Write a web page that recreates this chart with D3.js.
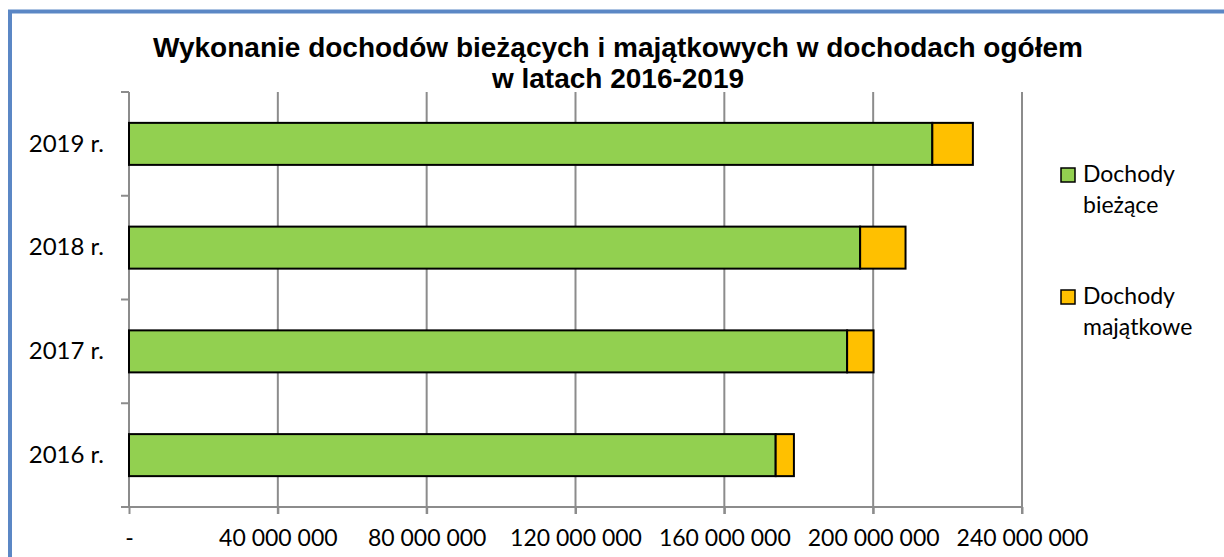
<!DOCTYPE html>
<html>
<head>
<meta charset="utf-8">
<script src="https://cdnjs.cloudflare.com/ajax/libs/d3/7.8.5/d3.min.js"></script>
<style>
  body { margin: 0; background: #fff; }
  svg { display: block; }
</style>
</head>
<body>
<script>
// values (PLN)
var years = ["2019 r.", "2018 r.", "2017 r.", "2016 r."];
var biezace = [215900000, 196500000, 193000000, 173800000];
var majatkowe = [10900000, 12200000, 7100000, 4900000];
var seriesNames = ["Dochody bieżące", "Dochody majątkowe"];
var xTicks = [0, 40000000, 80000000, 120000000, 160000000, 200000000, 240000000];
var colors = ["#92D050", "#FFC000"];

var w = 1224, h = 557,
    pd = { left: 129, right: 1022, top: 92, bottom: 507 };

var svg = d3.select("body").append("svg")
    .attr("width", w).attr("height", h);

// frame
svg.append("rect")
   .attr("x", 10).attr("y", 11.5)
   .attr("width", 1300).attr("height", 700)
   .attr("fill", "none")
   .attr("stroke", "#5B87C5")
   .attr("stroke-width", 4);

// title
var title = svg.append("text")
   .attr("text-anchor", "middle")
   .attr("font-family", "Liberation Sans, Arial, sans-serif")
   .attr("font-weight", "bold")
   .attr("font-size", "28px")
   .attr("fill", "#000");
title.append("tspan").attr("x", 618).attr("y", 57)
   .text("Wykonanie dochodów bieżących i majątkowych w dochodach ogółem");
title.append("tspan").attr("x", 618).attr("y", 88)
   .text("w latach 2016-2019");

var x = d3.scaleLinear().domain([0, 240000000]).range([pd.left, pd.right]);
var y = d3.scaleBand().domain(years).range([pd.top, pd.bottom])
          .paddingInner(0.595).paddingOuter(0.2975);

var fmt = function(d) {
  return d === 0 ? "-" : d3.format(",")(d).replace(/,/g, " ");
};

// gridlines
svg.selectAll("line.grid")
   .data(xTicks.slice(1))
   .enter()
   .append("line")
   .attr("class", "grid")
   .attr("x1", function(d) { return x(d); })
   .attr("x2", function(d) { return x(d); })
   .attr("y1", pd.top)
   .attr("y2", pd.bottom + 7)
   .attr("stroke", "#8C8C8C")
   .attr("stroke-width", 2);

// bottom axis
var xAxis = d3.axisBottom(x).tickValues(xTicks).tickFormat(fmt).tickSize(7).tickPadding(16);
var gx = svg.append("g")
   .attr("transform", "translate(0," + pd.bottom + ")")
   .call(xAxis);
gx.select(".domain").attr("stroke", "#8C8C8C").attr("stroke-width", 2)
  .attr("d", "M" + (pd.left - 8) + ",0H" + pd.right);
gx.selectAll(".tick line").attr("stroke", "#8C8C8C").attr("stroke-width", 2);
gx.selectAll(".tick text")
  .attr("font-family", "Lato, sans-serif")
  .attr("font-size", "23px")
  .attr("fill", "#000");

// left axis
var yAxis = d3.axisLeft(y).tickSize(0).tickPadding(25);
var gy = svg.append("g")
   .attr("transform", "translate(" + pd.left + ",0)")
   .call(yAxis);
gy.select(".domain").remove();
gy.selectAll(".tick text")
  .attr("font-family", "Lato, sans-serif")
  .attr("font-size", "24px")
  .attr("fill", "#000");
gy.append("line")
  .attr("x1", 0).attr("x2", 0)
  .attr("y1", pd.top).attr("y2", pd.bottom)
  .attr("stroke", "#8C8C8C").attr("stroke-width", 2);
gy.selectAll("line.cat")
  .data(d3.range(years.length))
  .enter()
  .append("line")
  .attr("class", "cat")
  .attr("x1", -8).attr("x2", 0)
  .attr("y1", function(i) { return pd.top + i * y.step(); })
  .attr("y2", function(i) { return pd.top + i * y.step(); })
  .attr("stroke", "#8C8C8C").attr("stroke-width", 2);

// bars
var stackData = years.map(function(yr, i) {
  return { year: yr, a: biezace[i], b: majatkowe[i] };
});
var stack = d3.stack().keys(["a", "b"])(stackData);

svg.selectAll("g.series")
   .data(stack)
   .enter()
   .append("g")
   .attr("class", "series")
   .attr("fill", function(d, i) { return colors[i]; })
   .selectAll("rect")
   .data(function(d) { return d; })
   .enter()
   .append("rect")
   .attr("x", function(d) { return x(d[0]); })
   .attr("y", function(d) { return y(d.data.year); })
   .attr("width", function(d) { return x(d[1]) - x(d[0]); })
   .attr("height", y.bandwidth())
   .attr("stroke", "#000")
   .attr("stroke-width", 2);

// legend
var legY = [182, 304];
var leg = svg.selectAll("g.legend")
   .data(seriesNames)
   .enter()
   .append("g")
   .attr("class", "legend")
   .attr("transform", function(d, i) { return "translate(1061," + legY[i] + ")"; });
leg.append("rect")
   .attr("x", 0).attr("y", -14)
   .attr("width", 14).attr("height", 14)
   .attr("fill", function(d, i) { return colors[i]; })
   .attr("stroke", "#000").attr("stroke-width", 1.5);
leg.append("text")
   .attr("font-family", "Lato, sans-serif")
   .attr("font-size", "23px")
   .attr("fill", "#000")
   .each(function(d) {
     var parts = d.split(" ");
     var t = d3.select(this);
     t.append("tspan").attr("x", 22).attr("y", 0).text(parts[0]);
     t.append("tspan").attr("x", 22).attr("y", 31).text(parts[1]);
   });
</script>
</body>
</html>
